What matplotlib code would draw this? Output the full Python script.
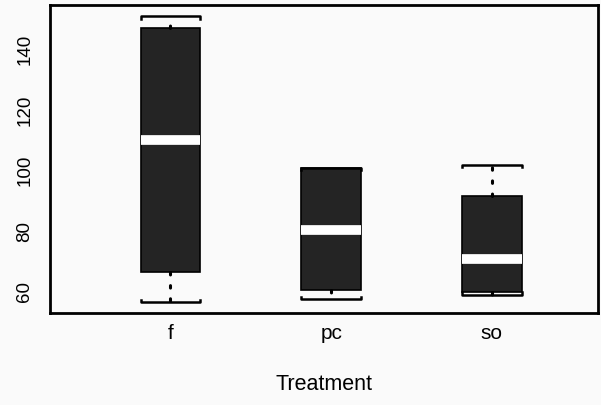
import matplotlib.pyplot as plt
import numpy as np

plt.rcParams['font.family'] = ['Liberation Sans', 'DejaVu Sans']

# boxplot summaries per treatment
groups = ['f', 'pc', 'so']
medians = [110, 80.5, 71]
q1 = [66.5, 60.7, 59.8]
q3 = [147, 101, 91.5]
whislo = [56.5, 57.5, 59]
whishi = [151, 101, 102]

stats = []
for i, g in enumerate(groups):
    stats.append(dict(label=g, med=medians[i], q1=q1[i], q3=q3[i],
                      whislo=whislo[i], whishi=whishi[i], fliers=[]))

fig = plt.figure(figsize=(6.01, 4.05), dpi=100)
ax = fig.add_axes([0.083, 0.227, 0.912, 0.761])

pos = np.arange(1, len(groups) + 1)
w = 0.37
ax.bxp(stats, positions=pos, widths=w, patch_artist=True, showcaps=False,
       boxprops=dict(facecolor='#242424', edgecolor='black', linewidth=1.2),
       medianprops=dict(color='white', linewidth=7, solid_capstyle='butt'),
       whiskerprops=dict(color='black', linewidth=2.2,
                         linestyle=(0, (0.8, 3.5)), dash_capstyle='round'))

# bracket-shaped whisker caps
h = 0.9
for x, lo, hi in zip(pos, whislo, whishi):
    xl, xr = x - w / 2, x + w / 2
    ax.plot([xl, xl, xr, xr], [hi - h, hi, hi, hi - h], color='black', lw=1.8,
            solid_joinstyle='round')
    ax.plot([xl, xl, xr, xr], [lo + h, lo, lo, lo + h], color='black', lw=1.8,
            solid_joinstyle='round')

ax.set_xlim(0.25, 3.66)
ax.set_ylim(53, 154.7)
ax.set_yticks([60, 80, 100, 120, 140])
ax.set_xticks(pos)
ax.set_xticklabels(groups)
ax.tick_params(axis='both', length=0, labelsize=13.5)
ax.tick_params(axis='x', pad=8, labelsize=15)
ax.tick_params(axis='y', pad=12)
for lab in ax.get_yticklabels():
    lab.set_rotation(90)
    lab.set_va('center')
ax.set_xlabel('Treatment', fontsize=15.5, labelpad=22)
for s in ax.spines.values():
    s.set_linewidth(2)

fig.patch.set_facecolor('#fafafa')
ax.set_facecolor('#fafafa')
fig.savefig('out.png', dpi=100, facecolor=fig.get_facecolor())
